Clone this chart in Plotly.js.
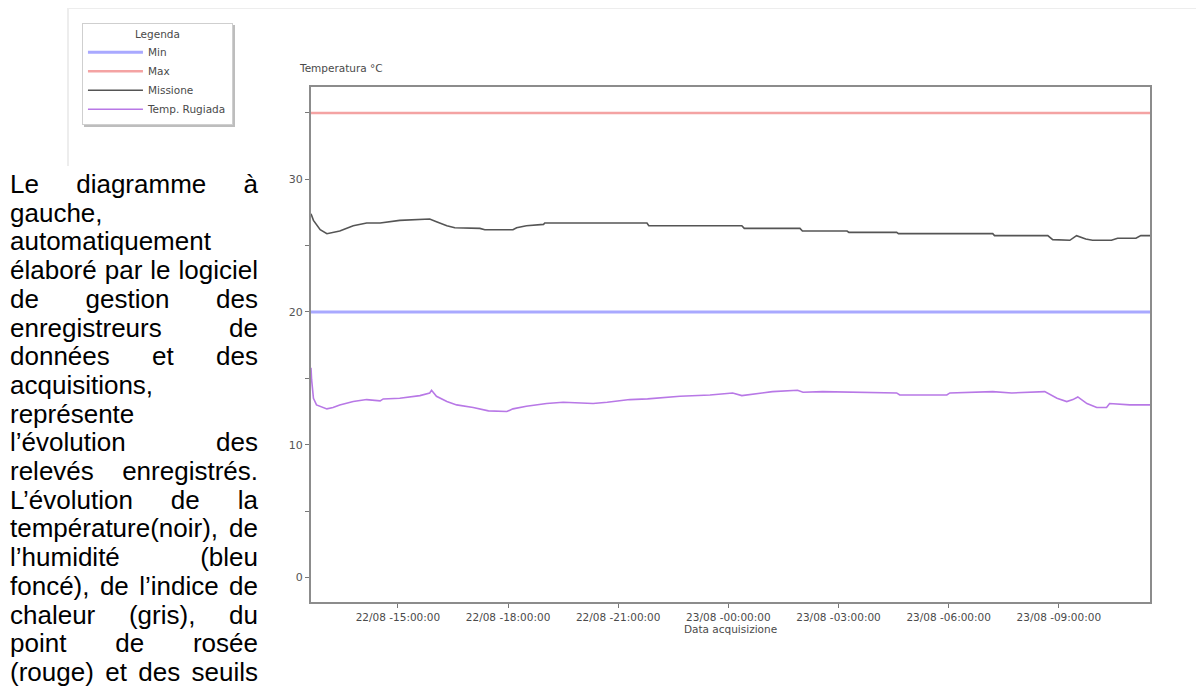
<!DOCTYPE html>
<html>
<head>
<meta charset="utf-8">
<script src="https://cdn.plot.ly/plotly-3.0.1.min.js"></script>
<style>
  html, body { margin: 0; padding: 0; background: #fff; }
  body { width: 1196px; height: 693px; position: relative; overflow: hidden; }
  #chart { position: absolute; left: 0; top: 0; width: 1196px; height: 693px; }
  #frame { position: absolute; left: 67px; top: 8px; width: 1129px; height: 157px;
           border-left: 2px solid #ededed; border-top: 1px solid #ededed; pointer-events: none; }
  #text { position: absolute; left: 10px; top: 170px; width: 248px;
          font-family: "Liberation Sans", Arial, sans-serif; font-size: 26px; line-height: 28.7px; color: #000; }
  #text div { text-align: justify; text-align-last: justify; white-space: nowrap; }
  #text div.l { text-align: left; text-align-last: left; }
  #chart .legend .bg { filter: drop-shadow(2px 2px 0px #bdbdbd); }
</style>
</head>
<body>
<div id="chart"></div>
<div id="frame"></div>
<div id="text">
  <div>Le diagramme à</div>
  <div class="l">gauche,</div>
  <div class="l">automatiquement</div>
  <div>élaboré par le logiciel</div>
  <div>de gestion des</div>
  <div>enregistreurs de</div>
  <div>données et des</div>
  <div class="l">acquisitions,</div>
  <div class="l">représente</div>
  <div>l’évolution des</div>
  <div>relevés enregistrés.</div>
  <div>L’évolution de la</div>
  <div>température(noir), de</div>
  <div>l’humidité (bleu</div>
  <div>foncé), de l’indice de</div>
  <div>chaleur (gris), du</div>
  <div>point de rosée</div>
  <div>(rouge) et des seuils</div>
</div>
<script>
// ---- data ----
var seriesNames = ["Min", "Max", "Missione", "Temp. Rugiada"];

var thresholdTimes = ["2012-08-22 12:38", "2012-08-23 11:29"];
var minValues = [20, 20];
var maxValues = [35, 35];

var missioneTimes = [
  "2012-08-22 12:38","2012-08-22 12:42","2012-08-22 12:53","2012-08-22 13:04","2012-08-22 13:25",
  "2012-08-22 13:36","2012-08-22 13:47","2012-08-22 14:09","2012-08-22 14:31","2012-08-22 15:03",
  "2012-08-22 15:36","2012-08-22 15:52","2012-08-22 16:03","2012-08-22 16:20","2012-08-22 16:33",
  "2012-08-22 17:14","2012-08-22 17:22","2012-08-22 18:08","2012-08-22 18:14","2012-08-22 18:30",
  "2012-08-22 18:58","2012-08-22 19:00","2012-08-22 21:47","2012-08-22 21:50","2012-08-23 00:22",
  "2012-08-23 00:26","2012-08-23 01:57","2012-08-23 02:01","2012-08-23 03:14","2012-08-23 03:17",
  "2012-08-23 04:35","2012-08-23 04:38","2012-08-23 07:12","2012-08-23 07:15","2012-08-23 08:42",
  "2012-08-23 08:50","2012-08-23 09:18","2012-08-23 09:29","2012-08-23 09:44","2012-08-23 09:55",
  "2012-08-23 10:26","2012-08-23 10:36","2012-08-23 11:06","2012-08-23 11:14","2012-08-23 11:29"
];
var missioneValues = [
  27.4, 26.9, 26.2, 25.9, 26.1,
  26.3, 26.5, 26.7, 26.7, 26.9,
  27.0, 27.0, 26.8, 26.5, 26.35,
  26.3, 26.2, 26.2, 26.35, 26.5,
  26.6, 26.7, 26.7, 26.5, 26.5,
  26.3, 26.3, 26.1, 26.1, 26.0,
  26.0, 25.9, 25.9, 25.75, 25.75,
  25.45, 25.4, 25.75, 25.5, 25.4,
  25.4, 25.55, 25.55, 25.75, 25.75
];

var rugiadaTimes = [
  "2012-08-22 12:38","2012-08-22 12:39","2012-08-22 12:42","2012-08-22 12:47","2012-08-22 13:04",
  "2012-08-22 13:14","2012-08-22 13:25","2012-08-22 13:47","2012-08-22 14:09","2012-08-22 14:31",
  "2012-08-22 14:36","2012-08-22 15:03","2012-08-22 15:36","2012-08-22 15:52","2012-08-22 15:55",
  "2012-08-22 16:03","2012-08-22 16:20","2012-08-22 16:36","2012-08-22 17:03","2012-08-22 17:28",
  "2012-08-22 17:58","2012-08-22 18:08","2012-08-22 18:30","2012-08-22 19:03","2012-08-22 19:30",
  "2012-08-22 20:19","2012-08-22 20:42","2012-08-22 21:19","2012-08-22 21:48","2012-08-22 22:41",
  "2012-08-22 23:30","2012-08-23 00:07","2012-08-23 00:22","2012-08-23 00:30","2012-08-23 01:12",
  "2012-08-23 01:53","2012-08-23 02:02","2012-08-23 02:34","2012-08-23 03:23","2012-08-23 04:35",
  "2012-08-23 04:40","2012-08-23 05:57","2012-08-23 06:02","2012-08-23 07:12","2012-08-23 07:43",
  "2012-08-23 08:37","2012-08-23 08:57","2012-08-23 09:13","2012-08-23 09:23","2012-08-23 09:31",
  "2012-08-23 09:46","2012-08-23 10:02","2012-08-23 10:18","2012-08-23 10:23","2012-08-23 10:56",
  "2012-08-23 11:29"
];
var rugiadaValues = [
  15.8, 14.9, 13.5, 13.0, 12.7,
  12.8, 13.0, 13.25, 13.4, 13.3,
  13.45, 13.5, 13.7, 13.9, 14.1,
  13.65, 13.25, 13.0, 12.8, 12.55,
  12.5, 12.7, 12.9, 13.1, 13.2,
  13.1, 13.2, 13.4, 13.45, 13.65,
  13.75, 13.9, 13.7, 13.75, 14.0,
  14.1, 13.95, 14.0, 13.95, 13.9,
  13.75, 13.75, 13.9, 14.0, 13.9,
  14.0, 13.5, 13.25, 13.4, 13.6,
  13.1, 12.8, 12.8, 13.1, 13.0,
  13.0
];

var yTickVals = [0, 5, 10, 15, 20, 25, 30, 35];
var yTickText = ["0", "", "10", "", "20", "", "30", ""];
var xTickVals = ["2012-08-22 15:00","2012-08-22 18:00","2012-08-22 21:00","2012-08-23 00:00",
                 "2012-08-23 03:00","2012-08-23 06:00","2012-08-23 09:00"];
var xTickText = ["22/08 -15:00:00","22/08 -18:00:00","22/08 -21:00:00","23/08 -00:00:00",
                 "23/08 -03:00:00","23/08 -06:00:00","23/08 -09:00:00"];

// ---- chart ----
var traces = [
  { x: thresholdTimes, y: minValues, name: seriesNames[0], mode: "lines",
    line: { color: "#a9a9ff", width: 3 } },
  { x: thresholdTimes, y: maxValues, name: seriesNames[1], mode: "lines",
    line: { color: "#f4a3a3", width: 2.5 } },
  { x: missioneTimes, y: missioneValues, name: seriesNames[2], mode: "lines",
    line: { color: "#555555", width: 1.6 } },
  { x: rugiadaTimes, y: rugiadaValues, name: seriesNames[3], mode: "lines",
    line: { color: "#b878e6", width: 1.6 } }
];

var fam = "DejaVu Sans, Verdana, sans-serif";

var layout = {
  width: 1196, height: 693,
  margin: { l: 311, r: 46, t: 87, b: 91, pad: 0 },
  paper_bgcolor: "#ffffff", plot_bgcolor: "#ffffff",
  font: { family: fam, size: 10.5, color: "#444" },
  showlegend: true,
  legend: {
    x: -0.273, y: 1.124, xanchor: "left", yanchor: "top",
    bgcolor: "#ffffff", bordercolor: "#cfcfcf", borderwidth: 1,
    font: { family: fam, size: 10.5, color: "#4a4a4a" },
    title: { text: "Legenda", side: "top center", font: { family: fam, size: 10.5, color: "#4a4a4a" } },
    itemwidth: 55, tracegroupgap: 0
  },
  xaxis: {
    type: "date",
    range: ["2012-08-22 12:38", "2012-08-23 11:29"],
    tickvals: xTickVals, ticktext: xTickText,
    ticks: "outside", ticklen: 4, tickcolor: "#777", tickwidth: 1,
    showline: true, linecolor: "#8c8c8c", linewidth: 2, mirror: true,
    showgrid: false, zeroline: false,
    tickfont: { family: fam, size: 10.5, color: "#4a4a4a" },
    title: { text: "Data acquisizione", standoff: 4,
             font: { family: fam, size: 10.5, color: "#4a4a4a" } }
  },
  yaxis: {
    range: [-1.85, 36.95],
    tickvals: yTickVals, ticktext: yTickText,
    ticks: "outside", ticklen: 4, tickcolor: "#777", tickwidth: 1,
    showline: true, linecolor: "#8c8c8c", linewidth: 2, mirror: true,
    showgrid: false, zeroline: false,
    tickfont: { family: fam, size: 11, color: "#555" }
  },
  annotations: [
    { text: "Temperatura °C", xref: "paper", yref: "paper", x: -0.017, y: 1.036,
      xanchor: "left", yanchor: "middle", showarrow: false,
      font: { family: fam, size: 10.5, color: "#4a4a4a" } }
  ]
};

Plotly.newPlot("chart", traces, layout, { staticPlot: true, displayModeBar: false });
</script>
</body>
</html>
